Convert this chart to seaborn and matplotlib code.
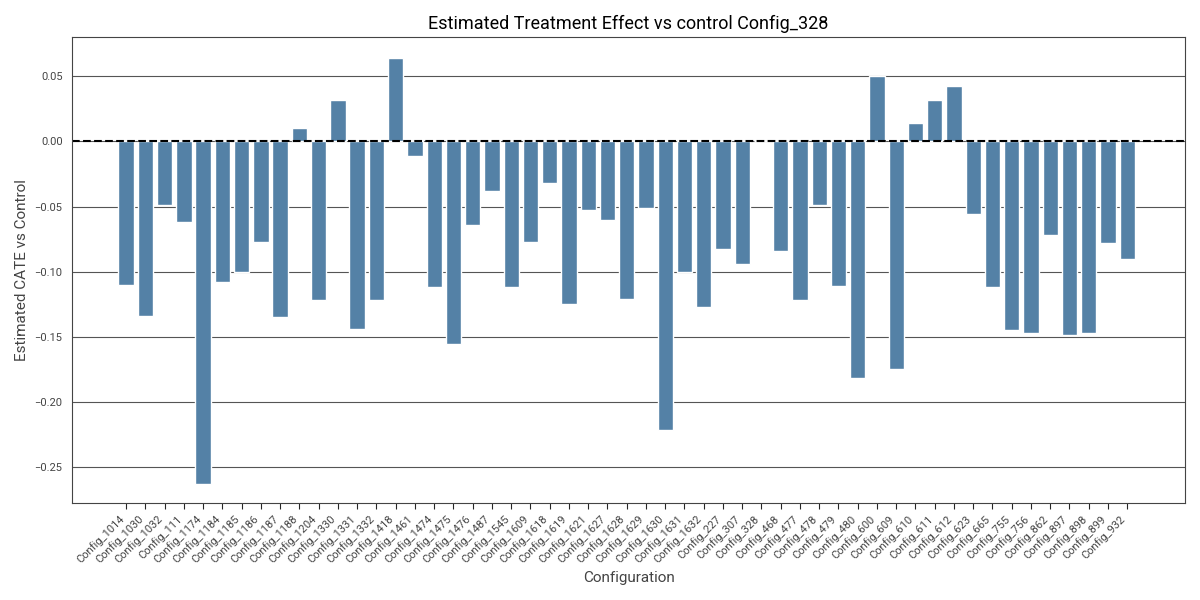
import matplotlib
matplotlib.use("Agg")
import matplotlib.pyplot as plt
import seaborn as sns
import pandas as pd

configs = ["1014", "1030", "1032", "111", "1174", "1184", "1185", "1186", "1187", "1188",
           "1204", "1330", "1331", "1332", "1418", "1461", "1474", "1475", "1476", "1487",
           "1545", "1609", "1618", "1619", "1621", "1627", "1628", "1629", "1630", "1631",
           "1632", "227", "307", "328", "468", "477", "478", "479", "480", "600",
           "609", "610", "611", "612", "623", "665", "755", "756", "862", "897",
           "898", "899", "932"]
cate = [-0.110, -0.134, -0.049, -0.062, -0.263, -0.108, -0.100, -0.077, -0.135, 0.010,
        -0.122, 0.032, -0.144, -0.122, 0.064, -0.011, -0.112, -0.156, -0.064, -0.038,
        -0.112, -0.077, -0.032, -0.125, -0.053, -0.060, -0.121, -0.051, -0.222, -0.100,
        -0.127, -0.083, -0.094, 0.0, -0.084, -0.122, -0.049, -0.111, -0.182, 0.050,
        -0.175, 0.014, 0.032, 0.043, -0.056, -0.112, -0.145, -0.147, -0.072, -0.149,
        -0.147, -0.078, -0.090]

df = pd.DataFrame({"Configuration": ["Config_" + c for c in configs], "CATE": cate})

sns.set_style("white")
plt.rcParams["font.family"] = ["Roboto", "DejaVu Sans"]

fig, ax = plt.subplots(figsize=(12, 6), dpi=100)
ax.set_axisbelow(True)
ax.yaxis.grid(True, color="#555555", linewidth=0.8)
sns.barplot(data=df, x="Configuration", y="CATE", color="steelblue", ax=ax, width=0.8)
ax.axhline(0, color="black", linestyle="--", linewidth=1.5)
ax.set_title("Estimated Treatment Effect vs control Config_328", fontsize=13, color="black")
ax.set_xlabel("Configuration", fontsize=11, color="#444444")
ax.set_ylabel("Estimated CATE vs Control", fontsize=11, color="#444444")
ax.set_ylim(-0.278, 0.08)
ax.set_xlim(-2.8, 55)
plt.setp(ax.get_xticklabels(), rotation=45, ha="right", fontsize=8, color="#444444")
ax.tick_params(axis="y", labelsize=8, colors="#444444")
ax.tick_params(axis="x", length=4, bottom=True)
for s in ax.spines.values():
    s.set_color("#444444")
plt.tight_layout()
plt.savefig("out.png")
